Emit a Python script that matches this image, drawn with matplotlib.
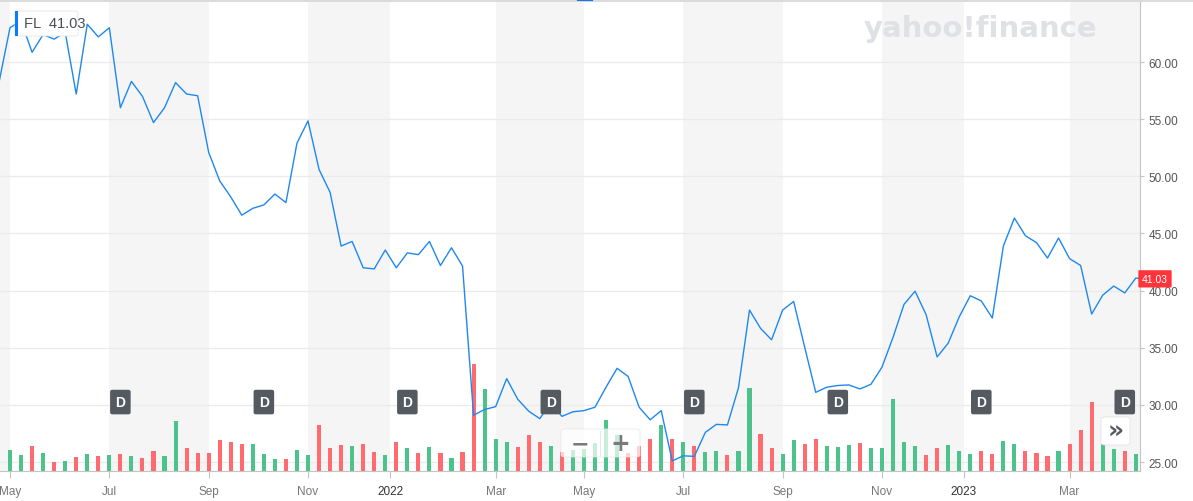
import numpy as np
import pandas as pd
import matplotlib
matplotlib.use("Agg")
import matplotlib.pyplot as plt
import matplotlib.transforms as mtransforms
from matplotlib.patches import FancyBboxPatch, Rectangle

plt.rcParams["font.family"] = ["Liberation Sans", "DejaVu Sans"]

# weekly closes for FL, first value is the week before the visible range
close = [58.2,
         63.0, 63.6, 60.85, 62.4, 62.0, 62.6, 57.2, 63.3, 62.2, 63.0,
         56.0, 58.3, 57.0, 54.7, 56.0, 58.2, 57.2, 57.05, 52.1, 49.6,
         48.2, 46.6, 47.2, 47.5, 48.45, 47.7, 52.9, 54.85, 50.6, 48.6,
         43.9, 44.3, 42.0, 41.9, 43.55, 42.0, 43.3, 43.15, 44.3, 42.2,
         43.75, 42.15, 29.1, 29.6, 29.85, 32.3, 30.5, 29.45, 28.8, 30.2,
         29.0, 29.4, 29.5, 29.8, 31.55, 33.2, 32.5, 29.8, 28.7, 29.5,
         25.1, 25.55, 25.5, 27.6, 28.3, 28.25, 31.5, 38.3, 36.7, 35.7,
         38.3, 39.05, 35.05, 31.1, 31.55, 31.7, 31.75, 31.4, 31.8, 33.3,
         35.9, 38.8, 39.95, 37.9, 34.2, 35.4, 37.7, 39.55, 39.1, 37.6,
         43.9, 46.35, 44.8, 44.2, 42.85, 44.6, 42.8, 42.2, 37.95, 39.6,
         40.4, 39.8, 41.1]
last_price = 41.03

# weekly volume, millions of shares
volume = [10.4, 7.9, 12.4, 8.9, 4.4, 4.9, 6.9, 8.4, 7.4, 7.9, 8.4, 7.4,
          6.4, 9.9, 7.4, 24.9, 11.4, 8.9, 8.9, 15.4, 14.4, 13.4, 13.4, 8.4,
          5.9, 5.9, 10.4, 7.9, 22.9, 11.4, 12.9, 12.4, 13.4, 9.4, 7.9, 14.4,
          11.4, 9.2, 12.2, 9.2, 6.4, 9.7, 53.4, 41.2, 16.2, 14.7, 12.2, 18.2,
          14.7, 12.7, 9.7, 10.5, 11.2, 14.2, 25.7, 18.2, 9.2, 12.7, 15.9, 23.2,
          16.2, 14.7, 12.7, 9.7, 10.2, 8.2, 10.2, 41.7, 18.7, 11.7, 8.7, 15.4,
          13.4, 15.9, 12.7, 12.2, 13.2, 14.2, 11.7, 11.7, 35.9, 14.7, 12.7, 8.2,
          11.7, 13.2, 10.2, 8.7, 10.2, 8.7, 15.2, 13.7, 10.2, 9.2, 7.7, 10.2,
          13.7, 20.7, 34.7, 21.7, 11.2, 10.2, 8.7]

dividend_dates = ["2021-07-05", "2021-10-04", "2022-01-03", "2022-04-04",
                  "2022-07-04", "2022-10-03", "2023-01-02", "2023-04-03"]

tick_months = ["2021-05-01", "2021-07-01", "2021-09-01", "2021-11-01", "2022-01-01",
               "2022-03-01", "2022-05-01", "2022-07-01", "2022-09-01", "2022-11-01",
               "2023-01-01", "2023-03-01"]
tick_labels = ["May", "Jul", "Sep", "Nov", "2022", "Mar", "May", "Jul", "Sep", "Nov",
               "2023", "Mar"]

price_ticks = [25, 30, 35, 40, 45, 50, 55, 60]

dates = pd.date_range("2021-04-19", periods=len(close), freq="7D")
close = np.array(close)
up = np.diff(close) >= 0
bar_dates = dates[1:]

W, H = 1193, 502
fig = plt.figure(figsize=(W / 100, H / 100), dpi=100)
ax = fig.add_axes([0, 1 - 472 / H, 1140 / W, 469 / H])
axv = ax.twinx()

px_day = 1140 / 723.0
x0 = pd.Timestamp("2021-04-26") - pd.Timedelta(days=10 / px_day)
x1 = x0 + pd.Timedelta(days=723)
ax.set_xlim(x0, x1)
ax.set_ylim(24.22, 65.25)
axv.set_xlim(x0, x1)
axv.set_ylim(0, 234.5)

# tick positions = start of the week holding the 1st of the month
tick_pos = [pd.Timestamp(d) - pd.Timedelta(days=pd.Timestamp(d).weekday()) for d in tick_months]
tick_pos = [t - pd.Timedelta(days=4) if lab.startswith("20") else t
            for t, lab in zip(tick_pos, tick_labels)]

# background layer (volume axes sits behind the price axes)
band_edges = [x0] + tick_pos + [x1]
for i in range(0, len(band_edges) - 1, 2):
    axv.axvspan(band_edges[i], band_edges[i + 1], color="#f5f5f5", lw=0, zorder=0)

grid_tr = mtransforms.blended_transform_factory(axv.transAxes, ax.transData)
axv.hlines(price_ticks, 0, 1, transform=grid_tr, color="#ebebeb", lw=0.9, zorder=1)

colors = ["#4cc38a" if u else "#ff6b6e" for u in up]
axv.bar(bar_dates, volume, width=2.6, color=colors, zorder=2)
axv.axis("off")

ax.set_zorder(axv.get_zorder() + 1)
ax.patch.set_visible(False)

line_col = "#1e88f0"
last_date = dates[-1] + pd.Timedelta(days=5)
ax.plot(list(dates) + [last_date], list(close) + [last_price], color=line_col, lw=1.0, zorder=3)
ax.plot([last_date], [last_price], "o", ms=6, color=line_col, clip_on=False, zorder=5)

# axes styling
for s in ["top", "left"]:
    ax.spines[s].set_visible(False)
ax.spines["right"].set_color("#c4c4c4")
ax.spines["bottom"].set_color("#c4c4c4")
ax.yaxis.tick_right()
ax.set_yticks(price_ticks)
ax.set_yticklabels([f"{p:.2f}" for p in price_ticks])
ax.tick_params(axis="y", length=3, color="#c4c4c4", labelsize=8.5, labelcolor="#555555", pad=3)
ax.set_xticks(tick_pos)
ax.set_xticklabels(tick_labels)
ax.tick_params(axis="x", length=5, color="#c4c4c4", labelsize=8.5, labelcolor="#777777", pad=5)
for t in ax.get_xticklabels():
    if t.get_text().startswith("20"):
        t.set_color("#333333")

# dividend markers
trans = mtransforms.blended_transform_factory(ax.transData, ax.transAxes)
for d in dividend_dates:
    ax.text(pd.Timestamp(d), 0.147, "D", transform=trans, ha="center", va="center",
            fontsize=10, fontweight="bold", color="white", zorder=6,
            bbox=dict(boxstyle="round,pad=0.38,rounding_size=0.15", fc="#555a61", ec="none"))

# price tag on the axis
trans_r = mtransforms.blended_transform_factory(ax.transAxes, ax.transData)
ax.text(1.0 + 2 / 1140, last_price, "41.03", transform=trans_r, ha="left", va="center",
        fontsize=7.5, color="white", clip_on=False, zorder=7,
        bbox=dict(boxstyle="round,pad=0.35,rounding_size=0.1", fc="#ff333a", ec="none"))


def fx(px):
    return px / W


def fy(py):
    return 1 - py / H


# top border
fig.add_artist(plt.Line2D([0, 1], [fy(1.5), fy(1.5)], color="#d4d4d4", lw=1.2))
fig.add_artist(plt.Line2D([fx(578), fx(592)], [fy(0.5), fy(0.5)], color="#1a73e8", lw=1.5))

# ticker label
fig.add_artist(FancyBboxPatch((fx(15), fy(37)), fx(63), 25 / H,
                              boxstyle="round,pad=0,rounding_size=0.003",
                              fc="white", ec="#e3e3e3", lw=0.6, zorder=8))
fig.add_artist(Rectangle((fx(15), fy(37)), fx(3.5), 25 / H, fc="#0a7cff", ec="none", zorder=9))
fig.text(fx(24), fy(24.5), "FL  41.03", ha="left", va="center", fontsize=10.5,
         color="#464e56", zorder=10)

# watermark
fig.text(fx(980), fy(29), "yahoo!finance", ha="center", va="center", fontsize=21,
         fontweight="bold", color="#dfe1e5", family="DejaVu Sans", zorder=1)

# zoom controls
fig.add_artist(FancyBboxPatch((fx(561), fy(458)), fx(79), 28 / H,
                              boxstyle="round,pad=0,rounding_size=0.004",
                              fc=(1, 1, 1, 0.7), ec=(0.9, 0.9, 0.9, 0.8), lw=0.6, zorder=8))
fig.add_artist(plt.Line2D([fx(600), fx(600)], [fy(456), fy(432)], color="#e6e6e6", lw=0.8, zorder=9))
fig.text(fx(580), fy(444), "\u2212", ha="center", va="center", fontsize=16, fontweight="bold",
         color="#7a7a7a", family="DejaVu Sans", zorder=10)
fig.text(fx(620), fy(444), "+", ha="center", va="center", fontsize=17, fontweight="bold",
         color="#7a7a7a", family="DejaVu Sans", zorder=10)

# scroll button
fig.add_artist(FancyBboxPatch((fx(1101), fy(446)), fx(29), 28 / H,
                              boxstyle="round,pad=0,rounding_size=0.004",
                              fc="white", ec="#e3e3e3", lw=0.6, zorder=8))
fig.text(fx(1115.5), fy(432), "\u00bb", ha="center", va="center", fontsize=18, fontweight="bold",
         color="#555a61", family="DejaVu Sans", zorder=10)

fig.savefig("out.png", dpi=100)
